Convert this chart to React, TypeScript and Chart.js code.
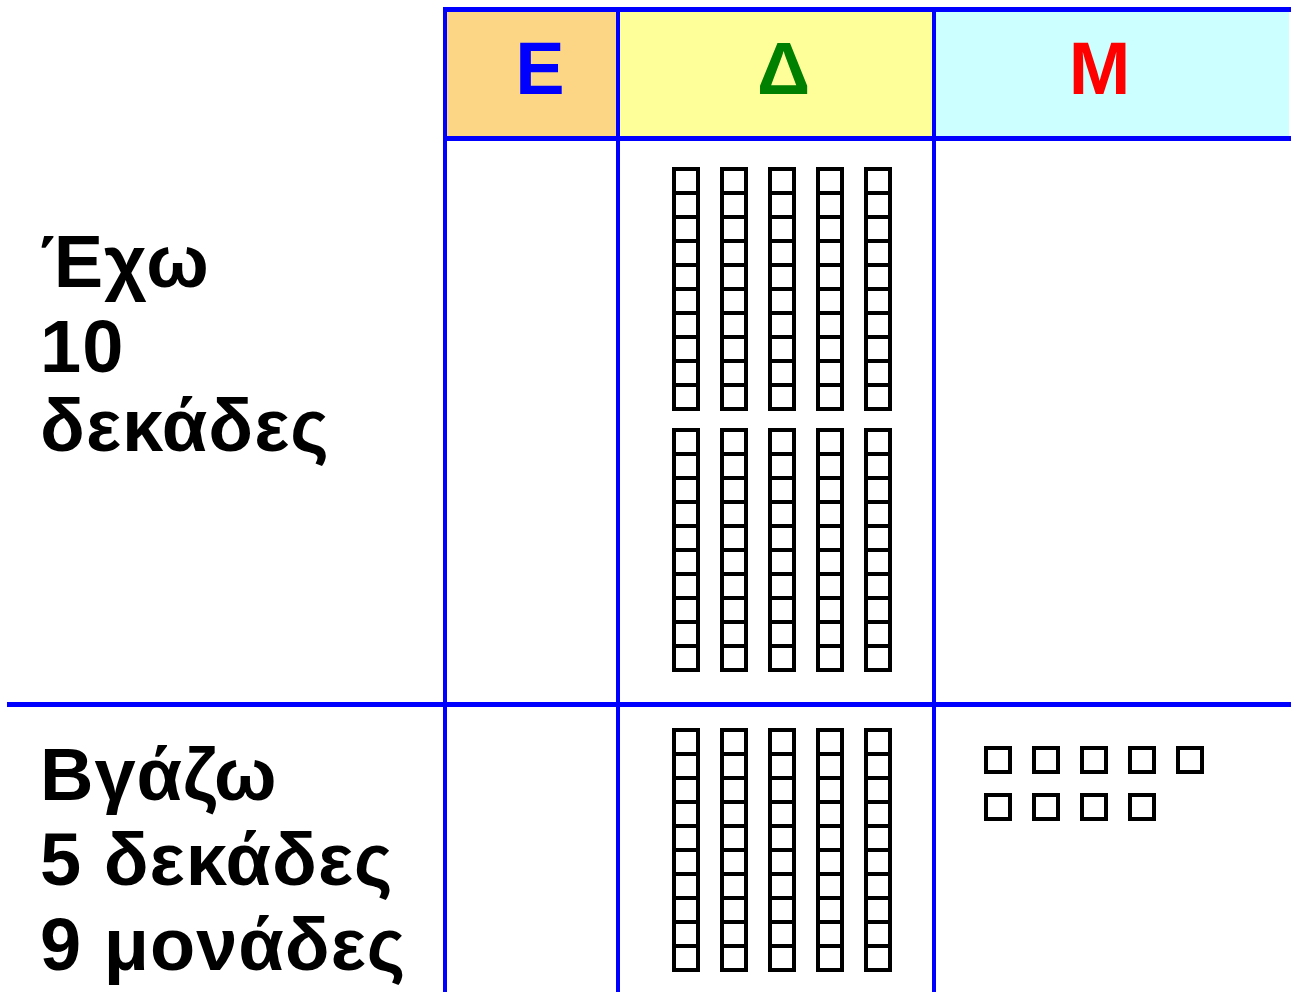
import React, { useEffect, useRef } from 'react';
import { Chart, registerables } from 'chart.js';

Chart.register(...registerables);

const W = 1291;
const H = 992;

// ---- data ----
const columnLabels = ['Ε', 'Δ', 'Μ'];
const columnLabelColors = ['#0000FF', '#008000', '#FF0000'];
const columnFills = ['#FCD685', '#FFFF99', '#CCFFFF'];
const rowLabels = [
  ['Έχω', '10', 'δεκάδες'],
  ['Βγάζω', '5 δεκάδες', '9 μονάδες'],
];
const hundredsPerRow = [0, 0];
const tensPerRow = [10, 5];
const unitsPerRow = [0, 9];

// ---- layout (pixels) ----
const COL_LINES = [445, 618, 934];
const HEADER_TOP = 7;
const HEADER_BOTTOM = 136;
const ROW_DIVIDER = 702;
const HEADER_TEXT_X = [540, 783.5, 1099.5];
const HEADER_BASELINE = 94;
const LABEL_X = 40;
const LABEL_BASELINES = [
  [287, 372, 451],
  [800, 885, 970],
];
const FONT = 'bold 74px "Liberation Sans", Arial, sans-serif';

const CELL = 24;
const ROD_X0 = 686;
const ROD_PITCH = 48;
const RODS_PER_BLOCK = 5;
const ROD_Y0 = [181, 742];
const BLOCK_PITCH = 261;
const UNIT_X0 = 998;
const UNIT_PITCH_X = 48;
const UNIT_PITCH_Y = 47;
const UNITS_PER_LINE = 5;
const UNIT_Y0 = [181, 760];

function tensPoints() {
  const pts: { x: number; y: number }[] = [];
  tensPerRow.forEach((count, r) => {
    for (let i = 0; i < count; i++) {
      const block = Math.floor(i / RODS_PER_BLOCK);
      const k = i % RODS_PER_BLOCK;
      const x = ROD_X0 + k * ROD_PITCH;
      const y0 = ROD_Y0[r] + block * BLOCK_PITCH;
      for (let c = 0; c < 10; c++) pts.push({ x, y: y0 + c * CELL });
    }
  });
  return pts;
}

function unitPoints() {
  const pts: { x: number; y: number }[] = [];
  unitsPerRow.forEach((count, r) => {
    for (let i = 0; i < count; i++) {
      const line = Math.floor(i / UNITS_PER_LINE);
      const k = i % UNITS_PER_LINE;
      pts.push({ x: UNIT_X0 + k * UNIT_PITCH_X, y: UNIT_Y0[r] + line * UNIT_PITCH_Y });
    }
  });
  return pts;
}

function hundredPoints() {
  // no hundreds in either row
  const pts: { x: number; y: number }[] = [];
  hundredsPerRow.forEach(() => undefined);
  return pts;
}

const boardPlugin = {
  id: 'board',
  beforeDatasetsDraw(chart: any) {
    const { ctx, scales } = chart;
    const px = (v: number) => scales.x.getPixelForValue(v);
    const py = (v: number) => scales.y.getPixelForValue(v);
    ctx.save();
    const edges = [...COL_LINES, W];
    // header fills
    columnFills.forEach((f, i) => {
      ctx.fillStyle = f;
      const x0 = px(edges[i] + 2);
      const x1 = px(edges[i + 1] - 2);
      ctx.fillRect(x0, py(HEADER_TOP + 5), x1 - x0, py(HEADER_BOTTOM) - py(HEADER_TOP + 5));
    });
    // blue grid lines
    ctx.fillStyle = '#0000FF';
    const left = px(COL_LINES[0] - 2);
    ctx.fillRect(left, py(HEADER_TOP), px(W) - left, 5);
    ctx.fillRect(left, py(HEADER_BOTTOM), px(W) - left, 5);
    ctx.fillRect(px(7), py(ROW_DIVIDER), px(W) - px(7), 5);
    COL_LINES.forEach((c) => {
      ctx.fillRect(px(c - 2), py(HEADER_TOP), 4, py(H) - py(HEADER_TOP));
    });
    // header letters
    ctx.font = FONT;
    ctx.textAlign = 'center';
    ctx.textBaseline = 'alphabetic';
    columnLabels.forEach((l, i) => {
      ctx.fillStyle = columnLabelColors[i];
      ctx.fillText(l, px(HEADER_TEXT_X[i]), py(HEADER_BASELINE));
    });
    // row labels
    ctx.textAlign = 'left';
    ctx.fillStyle = '#000000';
    if ('letterSpacing' in ctx) (ctx as any).letterSpacing = '1px';
    rowLabels.forEach((lines, r) => {
      lines.forEach((t, j) => ctx.fillText(t, px(LABEL_X), py(LABEL_BASELINES[r][j])));
    });
    if ('letterSpacing' in ctx) (ctx as any).letterSpacing = '0px';
    ctx.restore();
  },
};

export default function App() {
  const ref = useRef<HTMLCanvasElement>(null);
  useEffect(() => {
    if (!ref.current) return;
    const radius = CELL / 2 / Math.SQRT1_2;
    const blockStyle = {
      pointStyle: 'rect' as const,
      pointRadius: radius,
      pointHoverRadius: radius,
      pointBorderWidth: 4,
      pointBorderColor: '#000000',
      pointBackgroundColor: '#FFFFFF',
    };
    const chart = new Chart(ref.current, {
      type: 'scatter',
      data: {
        datasets: [
          { label: 'Ε', data: hundredPoints(), ...blockStyle },
          { label: 'Δ', data: tensPoints(), ...blockStyle },
          { label: 'Μ', data: unitPoints(), ...blockStyle },
        ],
      },
      options: {
        responsive: false,
        animation: false,
        events: [],
        layout: { padding: 0, autoPadding: false },
        plugins: { legend: { display: false }, tooltip: { enabled: false } },
        scales: {
          x: { type: 'linear', min: 0, max: W, display: false },
          y: { type: 'linear', min: 0, max: H, reverse: true, display: false },
        },
      },
      plugins: [boardPlugin],
    });
    return () => chart.destroy();
  }, []);
  return (
    <div style={{ position: 'absolute', left: 0, top: 0, width: W, height: H, background: '#FFFFFF' }}>
      <canvas ref={ref} width={W} height={H} style={{ display: 'block' }} />
    </div>
  );
}
